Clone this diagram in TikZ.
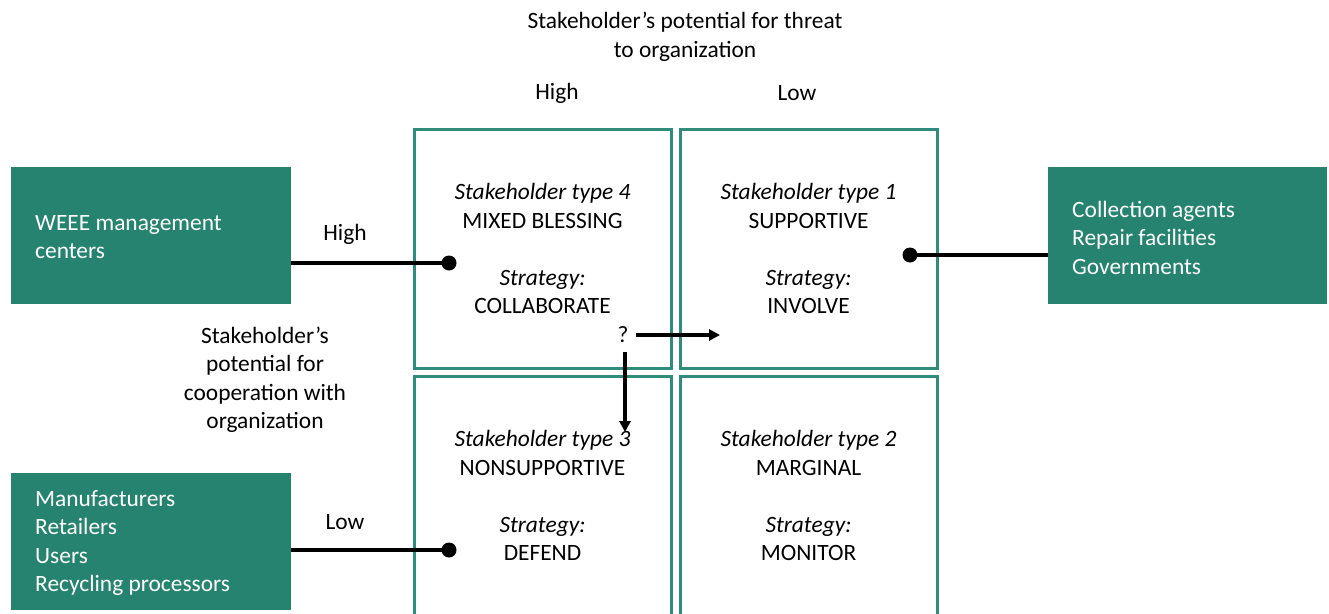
\documentclass[tikz,border=0pt]{standalone}
\usepackage{fontspec}
\setmainfont{Carlito}
\usetikzlibrary{arrows.meta}
\definecolor{teal}{HTML}{25836F}
\definecolor{frame}{HTML}{2F8C7C}
\begin{document}
\begin{tikzpicture}[x=1pt,y=-1pt,
  every node/.style={font=\fontsize{23.4}{28.5}\selectfont, inner sep=0pt},
  quad/.style={draw=frame, line width=3pt, minimum width=257pt, minimum height=239pt, align=center},
  group/.style={fill=teal, text=white, minimum width=280pt, minimum height=137pt},
  grouptext/.style={text=white, align=left, anchor=west},
  link/.style={line width=4pt},
  dot/.style={circle, fill=black, minimum size=15pt},
  arr/.style={line width=3.8pt, -{Triangle[length=11pt,width=11pt]}}
]
\clip (0,0) rectangle (1329,613);
\fill[white] (0,0) rectangle (1329,613);

% axis captions
\node[align=center] (title) at (685,37) {Stakeholder's potential for threat\\to organization};
\node (hiT) at (557,93) {High};
\node (loT) at (797,93) {Low};
\node (hiL) at (345,234) {High};
\node (loL) at (345,522) {Low};
\node[align=center] (coop) at (265,380) {Stakeholder's\\potential for\\cooperation with\\organization};

% the four stakeholder quadrants
\node[quad] (q4) at (542.5,248.5) {\textit{Stakeholder type 4}\\MIXED BLESSING\\[28.5pt]\textit{Strategy:}\\COLLABORATE};
\node[quad] (q1) at (808.5,248.5) {\textit{Stakeholder type 1}\\SUPPORTIVE\\[28.5pt]\textit{Strategy:}\\INVOLVE};
\node[quad] (q3) at (542.5,495.5) {\textit{Stakeholder type 3}\\NONSUPPORTIVE\\[28.5pt]\textit{Strategy:}\\DEFEND};
\node[quad] (q2) at (808.5,495.5) {\textit{Stakeholder type 2}\\MARGINAL\\[28.5pt]\textit{Strategy:}\\MONITOR};

% stakeholder groups
\node[group] (g1) at (151,235.5) {};
\node[grouptext] (g1t) at (35,237) {WEEE management\\centers};
\node[group] (g2) at (151,541) {};
\node[grouptext] (g2t) at (35,543) {Manufacturers\\Retailers\\Users\\Recycling processors};
\node[group, minimum width=279pt] (g3) at (1187.5,235.5) {};
\node[grouptext] (g3t) at (1072,237.5) {Collection agents\\Repair facilities\\Governments};

% links from groups to quadrants
\node[dot] (d4) at (449,263) {};
\node[dot] (d3) at (449,550) {};
\node[dot] (d1) at (910,255) {};
\draw[link] (d4 -| g1.east) -- (d4.center);
\draw[link] (d3 -| g2.east) -- (d3.center);
\draw[link] (d1.center) -- (d1 -| g3.west);

% possible transitions
\node (qm) at (623,335) {?};
\coordinate (r) at (720,335);
\coordinate (dn) at (625,432);
\draw[arr] (636,335) -- (r);
\draw[arr] (625,352) -- (dn);
\end{tikzpicture}
\end{document}
